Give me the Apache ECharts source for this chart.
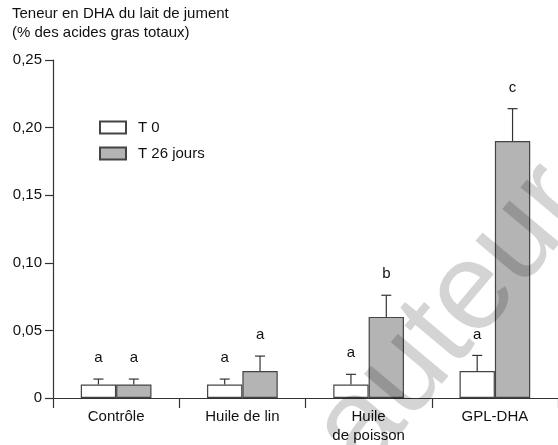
<!DOCTYPE html>
<html><head><meta charset="utf-8">
<script src="https://cdn.jsdelivr.net/npm/echarts@6/dist/echarts.min.js"></script>
<style>html,body{margin:0;padding:0;background:#fff}#c{width:558px;height:445px}</style>
</head><body><div id="c"></div>
<script>
const categories = ['Contrôle', 'Huile de lin', 'Huile\nde poisson', 'GPL-DHA'];
const seriesNames = ['T 0', 'T 26 jours'];
const t0Values = [0.010, 0.010, 0.010, 0.020];
const t0Errors = [0.004, 0.004, 0.0075, 0.0115];
const t0Letters = ['a', 'a', 'a', 'a'];
const t26Values = [0.010, 0.020, 0.060, 0.190];
const t26Errors = [0.004, 0.011, 0.016, 0.024];
const t26Letters = ['a', 'a', 'b', 'c'];
const titleLines = ['Teneur en DHA du lait de jument', '(% des acides gras totaux)'];
const watermarkText = 'auteur';

const FONT = 'Liberation Sans, Arial, Helvetica, sans-serif';
const BAR_FRAC = 0.28;
const FS = 15;

function errData(vals, errs) {
  return vals.map((v, i) => [i, v, errs[i]]);
}
function errRender(sign, letters) {
  return function (params, api) {
    const idx = api.value(0), v = api.value(1), e = api.value(2);
    const letter = letters[params.dataIndex];
    const base = api.coord([idx, v]);
    const top = api.coord([idx, v + e]);
    const bw = api.size([1, 0])[0] * BAR_FRAC;
    const x = base[0] + sign * bw / 2;
    const cap = 5;
    const st = { stroke: '#333', lineWidth: 1.2 };
    return {
      type: 'group',
      children: [
        { type: 'line', shape: { x1: x, y1: base[1], x2: x, y2: top[1] }, style: st },
        { type: 'line', shape: { x1: x - cap, y1: top[1], x2: x + cap, y2: top[1] }, style: st },
        { type: 'text', style: { text: letter, x: x, y: top[1] - 21, align: 'center', verticalAlign: 'middle', fontSize: FS, fontFamily: FONT, fill: '#111' } }
      ]
    };
  };
}

const chart = echarts.init(document.getElementById('c'), null, { renderer: 'canvas' });
chart.setOption({
  animation: false,
  backgroundColor: '#fff',
  textStyle: { fontFamily: FONT },
  title: {
    text: titleLines.join('\n'), left: 12, top: 4, padding: 0,
    textStyle: { fontSize: FS, fontWeight: 'normal', color: '#111', lineHeight: 19, fontFamily: FONT }
  },
  legend: {
    orient: 'vertical', left: 94, top: 115, itemWidth: 26, itemHeight: 12, itemGap: 11,
    icon: 'rect',
    textStyle: { fontSize: FS, color: '#111', fontFamily: FONT, padding: [0, 0, 0, 7] },
    data: seriesNames
  },
  grid: { left: 53, top: 60, width: 512, bottom: 43, containLabel: false },
  xAxis: {
    type: 'category', data: categories, boundaryGap: true,
    axisLine: { lineStyle: { color: '#333', width: 1.2 } },
    axisTick: { show: true, length: 10, alignWithLabel: false, lineStyle: { color: '#333', width: 1.2 } },
    axisLabel: { fontSize: FS, color: '#111', margin: 9, lineHeight: 19, fontFamily: FONT, interval: 0 }
  },
  yAxis: {
    type: 'value', min: 0, max: 0.25, interval: 0.05,
    axisLine: { show: true, lineStyle: { color: '#333', width: 1.2 } },
    axisTick: { show: true, length: 8, lineStyle: { color: '#333', width: 1.2 } },
    splitLine: { show: false },
    axisLabel: {
      fontSize: FS, color: '#111', margin: 11, fontFamily: FONT,
      formatter: v => v === 0 ? '0' : v.toFixed(2).replace('.', ',')
    }
  },
  series: [
    { name: seriesNames[0], type: 'bar', data: t0Values, barWidth: (BAR_FRAC * 100) + '%', barGap: '0%',
      itemStyle: { color: '#ffffff', borderColor: '#444', borderWidth: 1.2 } },
    { name: seriesNames[1], type: 'bar', data: t26Values, barWidth: (BAR_FRAC * 100) + '%', barGap: '0%',
      itemStyle: { color: '#b4b4b4', borderColor: '#444', borderWidth: 1.2 } },
    { type: 'custom', name: 'errT0', data: errData(t0Values, t0Errors), renderItem: errRender(-1, t0Letters), encode: { x: 0, y: 1 }, z: 5 },
    { type: 'custom', name: 'errT26', data: errData(t26Values, t26Errors), renderItem: errRender(1, t26Letters), encode: { x: 0, y: 1 }, z: 5 }
  ],
  graphic: [
    { type: 'text', x: 452, y: 318, rotation: 50 * Math.PI / 180, z: 100,
      style: { text: watermarkText, fontSize: 125, fontFamily: FONT, align: 'center', verticalAlign: 'middle',
        fill: 'rgba(0,0,0,0.17)' } }
  ]
});
</script>
</body></html>
